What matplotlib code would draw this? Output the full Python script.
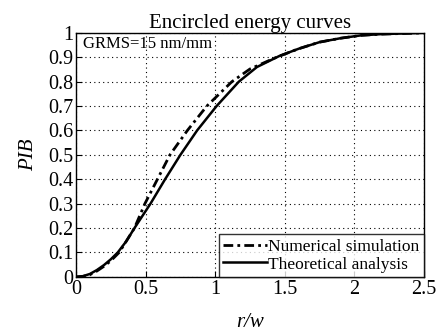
import matplotlib
matplotlib.use("Agg")
import matplotlib.pyplot as plt

plt.rcParams['font.family'] = ['Liberation Serif', 'DejaVu Serif']

# values
r_sim = [0, 0.05, 0.1, 0.15, 0.2, 0.25, 0.31, 0.36, 0.42, 0.495, 0.585, 0.675,
         0.80, 0.94, 1.12, 1.25, 1.44, 1.60, 1.75, 1.90, 2.05, 2.2, 2.5]
pib_sim = [0, 0.002, 0.009, 0.024, 0.043, 0.066, 0.10, 0.145, 0.20, 0.30, 0.40, 0.50,
           0.60, 0.70, 0.80, 0.852, 0.90, 0.935, 0.962, 0.978, 0.99, 0.995, 1.0]

r_theory = [0, 0.05, 0.1, 0.15, 0.2, 0.25, 0.3, 0.36, 0.42, 0.535, 0.64, 0.75,
            0.87, 1.01, 1.17, 1.30, 1.46, 1.60, 1.75, 1.90, 2.05, 2.2, 2.5]
pib_theory = [0, 0.003, 0.012, 0.028, 0.048, 0.072, 0.10, 0.145, 0.20, 0.30, 0.40, 0.50,
              0.60, 0.70, 0.80, 0.86, 0.905, 0.935, 0.962, 0.978, 0.99, 0.995, 1.0]

xticks = [0, 0.5, 1, 1.5, 2, 2.5]
yticks = [0, 0.1, 0.2, 0.3, 0.4, 0.5, 0.6, 0.7, 0.8, 0.9, 1]

fig = plt.figure(figsize=(4.47, 3.32), dpi=100)
ax = fig.add_axes([0.170, 0.166, 0.7785, 0.735])

ax.plot(r_sim, pib_sim, color='black', linestyle=(0, (3.5, 1.5, 1, 1.5)), linewidth=2,
        label='Numerical simulation')
ax.plot(r_theory, pib_theory, color='black', linestyle='-', linewidth=1.8,
        label='Theoretical analysis')

ax.set_xlim(0, 2.5)
ax.set_ylim(0, 1)
ax.set_xticks(xticks)
ax.set_xticklabels([('%g' % t) for t in xticks])
ax.set_yticks(yticks)
ax.set_yticklabels([('%g' % t) for t in yticks])
ax.tick_params(direction='in', labelsize=14.5, pad=2, length=4)
ax.grid(True, color='black', linestyle=(0, (1, 3)), linewidth=0.8)

ax.set_title('Encircled energy curves', fontsize=15, pad=3)
ax.set_xlabel('r/w', fontsize=15, fontstyle='italic', labelpad=10)
ax.set_ylabel('PIB', fontsize=15, fontstyle='italic', labelpad=7)

ax.text(0.02, 0.955, 'GRMS=15 nm/mm', transform=ax.transAxes, fontsize=12,
        va='center', ha='left')

leg = ax.legend(loc='lower right', fontsize=12.5, frameon=True, fancybox=False,
                edgecolor='black', borderaxespad=0, borderpad=0.25,
                handlelength=2.5, handletextpad=0.1, labelspacing=0.1)
leg.get_frame().set_linewidth(1)

for s in ax.spines.values():
    s.set_linewidth(1)

fig.savefig('out.png', dpi=100)
